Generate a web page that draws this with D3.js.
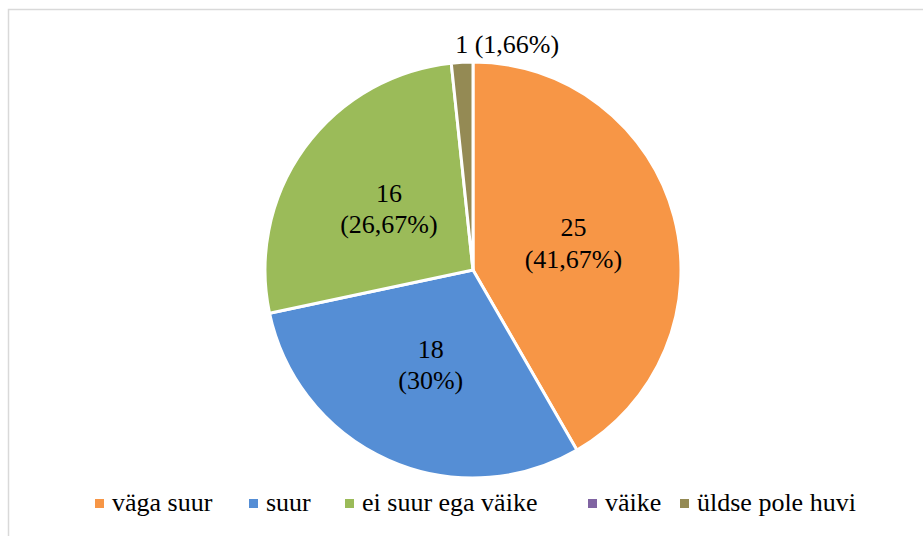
<!DOCTYPE html>
<html>
<head>
<meta charset="utf-8">
<script src="https://cdn.jsdelivr.net/npm/d3@7"></script>
<style>
  body { margin: 0; background: #fff; }
</style>
</head>
<body>
<svg id="chart" width="923" height="536"></svg>
<script>
const categories = ["väga suur", "suur", "ei suur ega väike", "väike", "üldse pole huvi"];
const counts = [25, 18, 16, 0, 1];
const labelTexts = [["25", "(41,67%)"], ["18", "(30%)"], ["16", "(26,67%)"], [], ["1 (1,66%)"]];
const colors = ["#F79646", "#558ED5", "#9BBB59", "#8064A2", "#948A54"];

const svg = d3.select("#chart");
const cx = 473, cy = 270, radius = 208;
const fontSize = 26;
const serif = "'Liberation Serif', 'Times New Roman', Times, Tinos, 'DejaVu Serif', 'Noto Serif', serif";

// chart frame (right/bottom edges fall outside the picture)
svg.append("rect")
    .attr("x", 8.5).attr("y", 9.5)
    .attr("width", 1000).attr("height", 1000)
    .attr("fill", "none")
    .attr("stroke", "#d9d9d9")
    .attr("stroke-width", 1.5);

const data = categories.map((c, i) => ({name: c, value: counts[i], label: labelTexts[i], color: colors[i]}));

const pie = d3.pie().sort(null).value(d => d.value);
const arc = d3.arc().innerRadius(0).outerRadius(radius);
const labelArc = d3.arc().innerRadius(radius * 0.5).outerRadius(radius * 0.5);

const g = svg.append("g").attr("transform", "translate(" + cx + "," + cy + ")");
const arcs = pie(data);

g.selectAll("path.slice")
    .data(arcs.filter(d => d.data.value > 0))
    .enter().append("path")
    .attr("class", "slice")
    .attr("d", arc)
    .attr("fill", d => d.data.color)
    .attr("stroke", "#fff")
    .attr("stroke-width", 3)
    .attr("stroke-linejoin", "round");

// slice labels
arcs.forEach(function (d) {
    if (d.data.value <= 0 || d.data.label.length === 0) return;
    let pos;
    if (d.endAngle - d.startAngle < 0.3) {
        // small slice: label outside, above
        const mid = (d.startAngle + d.endAngle) / 2;
        pos = [Math.sin(mid) * (radius + 18) + 46, -Math.cos(mid) * (radius + 18)];
    } else {
        pos = labelArc.centroid(d);
    }
    const n = d.data.label.length;
    const lh = fontSize * 1.22;
    const t = g.append("text")
        .attr("text-anchor", "middle")
        .style("font-family", serif)
        .attr("font-size", fontSize);
    d.data.label.forEach(function (line, i) {
        t.append("tspan")
            .attr("x", pos[0])
            .attr("y", pos[1] + (i - (n - 1) / 2) * lh + fontSize * 0.33)
            .text(line);
    });
});

// legend
const legendY = 503;
const legendX = [95, 249, 345, 588, 680];
const legend = svg.selectAll(".legend")
    .data(data).enter()
    .append("g")
    .attr("class", "legend")
    .attr("transform", (d, i) => "translate(" + legendX[i] + "," + legendY + ")");

legend.append("rect")
    .attr("x", 0).attr("y", -4)
    .attr("width", 9).attr("height", 9)
    .attr("fill", d => d.color);

legend.append("text")
    .attr("x", 17)
    .attr("y", 8)
    .style("font-family", serif)
    .attr("font-size", fontSize)
    .text(d => d.name);
</script>
</body>
</html>
